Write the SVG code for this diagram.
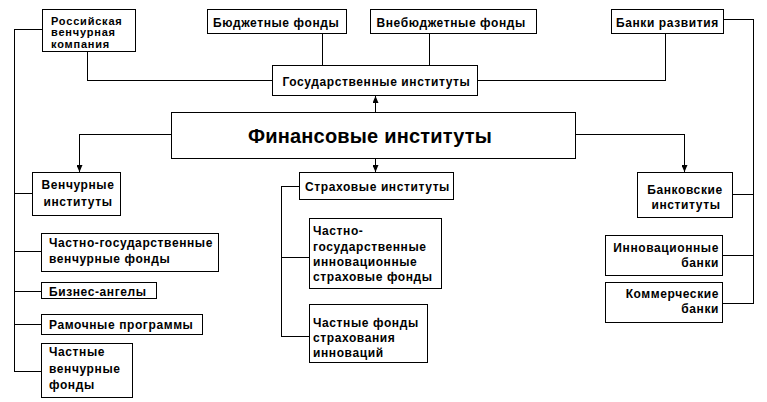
<svg xmlns="http://www.w3.org/2000/svg" width="767" height="402" viewBox="0 0 767 402">
<style>
  .box { fill: #fff; stroke: #000; stroke-width: 1; }
  .ln { fill: none; stroke: #000; stroke-width: 1; }
  .t { font-family: "Liberation Sans", Arial, sans-serif; font-weight: bold; font-size: 12px; letter-spacing: 0.6px; fill: #000; }
  .ts { font-family: "Liberation Sans", Arial, sans-serif; font-weight: bold; font-size: 11px; letter-spacing: 0.8px; fill: #000; }
  .title { font-family: "Liberation Sans", Arial, sans-serif; font-weight: bold; font-size: 20px; letter-spacing: 0.2px; fill: #000; }
</style>
<defs>
  <marker id="arr" markerUnits="userSpaceOnUse" markerWidth="7" markerHeight="6" refX="7" refY="3" orient="auto">
    <path d="M0,0 L7,3 L0,6 z" fill="#000"/>
  </marker>
</defs>
<rect width="767" height="402" fill="#fff"/>
<g id="connectors" shape-rendering="crispEdges">
  <path class="ln" d="M87.5 51.5 V80.5 H272.5"/>
  <path class="ln" d="M322.5 33.5 V65.5"/>
  <path class="ln" d="M429.5 33.5 V65.5"/>
  <path class="ln" d="M665.5 33.5 V80.5 H477.5"/>
  <path class="ln" d="M375.5 112.5 V96" marker-end="url(#arr)"/>
  <path class="ln" d="M171.5 134.5 H79.5 V172" marker-end="url(#arr)"/>
  <path class="ln" d="M375.5 158.5 V172" marker-end="url(#arr)"/>
  <path class="ln" d="M575.5 134.5 H684.5 V172" marker-end="url(#arr)"/>
  <path class="ln" d="M42.5 29.5 H14.5 V371.5 H41.5"/>
  <path class="ln" d="M14.5 193.5 H32.5 M14.5 251.5 H41.5 M14.5 291.5 H41.5 M14.5 324.5 H41.5"/>
  <path class="ln" d="M299.5 186.5 H281.5 V336.5 H309.5 M281.5 257.5 H309.5"/>
  <path class="ln" d="M723.5 19.5 H753.5 V303.5 H722.5 M732.5 194.5 H753.5 M722.5 255.5 H753.5"/>
</g>
<g id="n-ros"><rect class="box" x="42.5" y="9.5" width="93" height="42" shape-rendering="crispEdges"/>
  <text class="ts" x="51" y="24.5">Российская</text><text class="ts" x="51" y="36">венчурная</text><text class="ts" x="51" y="47.5">компания</text></g>
<g id="n-budg"><rect class="box" x="207.5" y="9.5" width="139" height="24" shape-rendering="crispEdges"/>
  <text class="t" x="213" y="26.5">Бюджетные фонды</text></g>
<g id="n-vneb"><rect class="box" x="370.5" y="9.5" width="166" height="24" shape-rendering="crispEdges"/>
  <text class="t" x="376.5" y="26.5">Внебюджетные фонды</text></g>
<g id="n-bankr"><rect class="box" x="611.5" y="9.5" width="112" height="24" shape-rendering="crispEdges"/>
  <text class="t" x="616" y="26.5">Банки развития</text></g>
<g id="n-gos"><rect class="box" x="272.5" y="65.5" width="205" height="30" shape-rendering="crispEdges"/>
  <text class="t" x="282.5" y="86">Государственные институты</text></g>
<g id="n-fin"><rect class="box" x="171.5" y="112.5" width="404" height="46" shape-rendering="crispEdges"/>
  <text class="title" x="370" y="143" text-anchor="middle">Финансовые институты</text></g>
<g id="n-vench"><rect class="box" x="32.5" y="172.5" width="88" height="43" shape-rendering="crispEdges"/>
  <text class="t" x="78" y="189" text-anchor="middle">Венчурные</text><text class="t" x="78" y="205.5" text-anchor="middle">институты</text></g>
<g id="n-chgvf"><rect class="box" x="41.5" y="233.5" width="177" height="38" shape-rendering="crispEdges"/>
  <text class="t" x="49" y="247">Частно-государственные</text><text class="t" x="49" y="262.5">венчурные фонды</text></g>
<g id="n-biz"><rect class="box" x="41.5" y="282.5" width="115" height="16" shape-rendering="crispEdges"/>
  <text class="t" x="49" y="296">Бизнес-ангелы</text></g>
<g id="n-ram"><rect class="box" x="41.5" y="314.5" width="161" height="20" shape-rendering="crispEdges"/>
  <text class="t" x="49" y="328.5">Рамочные программы</text></g>
<g id="n-chvf"><rect class="box" x="41.5" y="343.5" width="91" height="54" shape-rendering="crispEdges"/>
  <text class="t" x="49" y="356">Частные</text><text class="t" x="49" y="372.5">венчурные</text><text class="t" x="49" y="389">фонды</text></g>
<g id="n-strah"><rect class="box" x="299.5" y="172.5" width="154" height="27" shape-rendering="crispEdges"/>
  <text class="t" x="305" y="190.5">Страховые институты</text></g>
<g id="n-chgisf"><rect class="box" x="309.5" y="218.5" width="132" height="70" shape-rendering="crispEdges"/>
  <text class="t" x="313" y="235">Частно-</text><text class="t" x="313" y="250.5">государственные</text><text class="t" x="313" y="265.5">инновационные</text><text class="t" x="313" y="280.5">страховые фонды</text></g>
<g id="n-chfsi"><rect class="box" x="309.5" y="304.5" width="118" height="58" shape-rendering="crispEdges"/>
  <text class="t" x="313" y="327">Частные фонды</text><text class="t" x="313" y="342">страхования</text><text class="t" x="313" y="357">инноваций</text></g>
<g id="n-bankinst"><rect class="box" x="637.5" y="172.5" width="95" height="45" shape-rendering="crispEdges"/>
  <text class="t" x="685" y="193.5" text-anchor="middle">Банковские</text><text class="t" x="686" y="208.5" text-anchor="middle">институты</text></g>
<g id="n-innov"><rect class="box" x="605.5" y="235.5" width="117" height="40" shape-rendering="crispEdges"/>
  <text class="t" x="719" y="251.5" text-anchor="end">Инновационные</text><text class="t" x="719" y="266.5" text-anchor="end">банки</text></g>
<g id="n-komm"><rect class="box" x="605.5" y="282.5" width="117" height="40" shape-rendering="crispEdges"/>
  <text class="t" x="719" y="297.5" text-anchor="end">Коммерческие</text><text class="t" x="719" y="312.5" text-anchor="end">банки</text></g>
</svg>
